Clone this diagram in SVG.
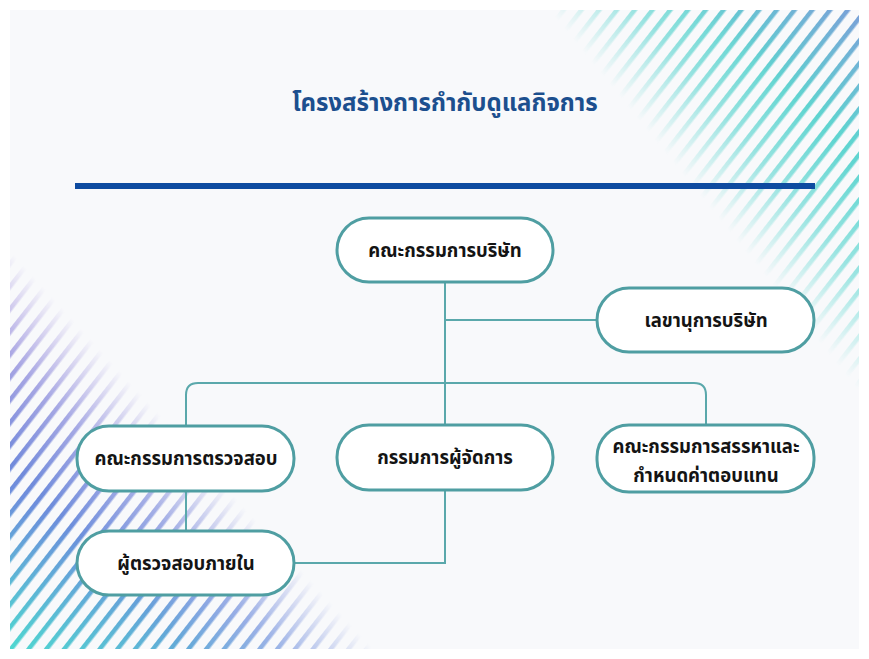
<svg xmlns="http://www.w3.org/2000/svg" width="869" height="659" viewBox="0 0 869 659">
  <style>
    .node rect { fill: #ffffff; stroke: #4f9ea2; stroke-width: 3; }
    .node text { font-family: "Noto Sans Thai", "Noto Sans", "Liberation Sans", sans-serif; font-weight: bold; font-size: 18.5px; fill: #141414; text-anchor: middle; }
    .conn path { fill: none; stroke: #5aa8ab; stroke-width: 2; }
    .title { font-family: "Noto Sans Thai", "Noto Sans", "Liberation Sans", sans-serif; font-weight: bold; font-size: 24px; fill: #1c4f8e; text-anchor: middle; }
  </style>
  <defs>
    <pattern id="stripes" patternUnits="userSpaceOnUse" width="14" height="14" patternTransform="rotate(38)">
      <rect x="0" y="0" width="4.5" height="14" fill="#ffffff"/>
    </pattern>
    <mask id="stripeMask" maskUnits="userSpaceOnUse" x="0" y="0" width="869" height="659">
      <rect x="0" y="0" width="869" height="659" fill="url(#stripes)"/>
    </mask>
    <linearGradient id="fadeTR" gradientUnits="userSpaceOnUse" x1="699" y1="195" x2="854" y2="69">
      <stop offset="0" stop-color="#000"/>
      <stop offset="0.35" stop-color="#aaa"/>
      <stop offset="0.7" stop-color="#fff"/>
    </linearGradient>
    <linearGradient id="fadeBL" gradientUnits="userSpaceOnUse" x1="195" y1="453" x2="47" y2="588">
      <stop offset="0" stop-color="#000"/>
      <stop offset="0.35" stop-color="#aaa"/>
      <stop offset="0.7" stop-color="#fff"/>
    </linearGradient>
    <mask id="maskTR" maskUnits="userSpaceOnUse" x="0" y="0" width="869" height="659">
      <rect x="0" y="0" width="869" height="659" fill="url(#fadeTR)"/>
    </mask>
    <mask id="maskBL" maskUnits="userSpaceOnUse" x="0" y="0" width="869" height="659">
      <rect x="0" y="0" width="869" height="659" fill="url(#fadeBL)"/>
    </mask>
    <linearGradient id="colTR" gradientUnits="userSpaceOnUse" x1="860" y1="10" x2="640" y2="300">
      <stop offset="0" stop-color="#7a9fd8"/>
      <stop offset="0.3" stop-color="#5fd4d0"/>
      <stop offset="1" stop-color="#7fe3dc"/>
    </linearGradient>
    <linearGradient id="colBL" gradientUnits="userSpaceOnUse" x1="10" y1="650" x2="160" y2="380">
      <stop offset="0" stop-color="#4fd8d0"/>
      <stop offset="0.45" stop-color="#6d8edc"/>
      <stop offset="1" stop-color="#8a76d6"/>
    </linearGradient>
  </defs>

  <rect x="0" y="0" width="869" height="659" fill="#ffffff"/>
  <rect x="10" y="10" width="849" height="639" fill="#f8f9fb"/>

  <g id="stripes-top-right" mask="url(#maskTR)">
    <rect x="500" y="10" width="359" height="420" fill="url(#colTR)" mask="url(#stripeMask)"/>
  </g>
  <g id="stripes-bottom-left" mask="url(#maskBL)">
    <rect x="10" y="250" width="420" height="399" fill="url(#colBL)" mask="url(#stripeMask)"/>
  </g>

  <text class="title" x="445" y="111">โครงสร้างการกำกับดูแลกิจการ</text>
  <rect x="75" y="183" width="740" height="6" fill="#0e4ba0"/>

  <g id="connectors" class="conn">
    <path d="M445 282 V425"/>
    <path d="M445 320 H596"/>
    <path d="M186 425 V395 Q186 383 198 383 H694 Q706 383 706 395 V425"/>
    <path d="M186 491 V530"/>
    <path d="M294 563 H445 V490"/>
  </g>

  <g id="node-board" class="node">
    <rect x="337" y="218" width="216" height="64" rx="32"/>
    <text x="445" y="257">คณะกรรมการบริษัท</text>
  </g>
  <g id="node-secretary" class="node">
    <rect x="597" y="288" width="217" height="64" rx="32"/>
    <text x="706" y="327">เลขานุการบริษัท</text>
  </g>
  <g id="node-audit" class="node">
    <rect x="77" y="426" width="217" height="65" rx="32"/>
    <text x="186" y="465">คณะกรรมการตรวจสอบ</text>
  </g>
  <g id="node-md" class="node">
    <rect x="337" y="425" width="216" height="65" rx="32"/>
    <text x="445" y="464">กรรมการผู้จัดการ</text>
  </g>
  <g id="node-nomination" class="node">
    <rect x="597" y="425" width="217" height="67" rx="32"/>
    <text x="706" y="453">คณะกรรมการสรรหาและ</text>
    <text x="706" y="482">กำหนดค่าตอบแทน</text>
  </g>
  <g id="node-internal-audit" class="node">
    <rect x="77" y="531" width="217" height="64" rx="32"/>
    <text x="186" y="570">ผู้ตรวจสอบภายใน</text>
  </g>
</svg>
